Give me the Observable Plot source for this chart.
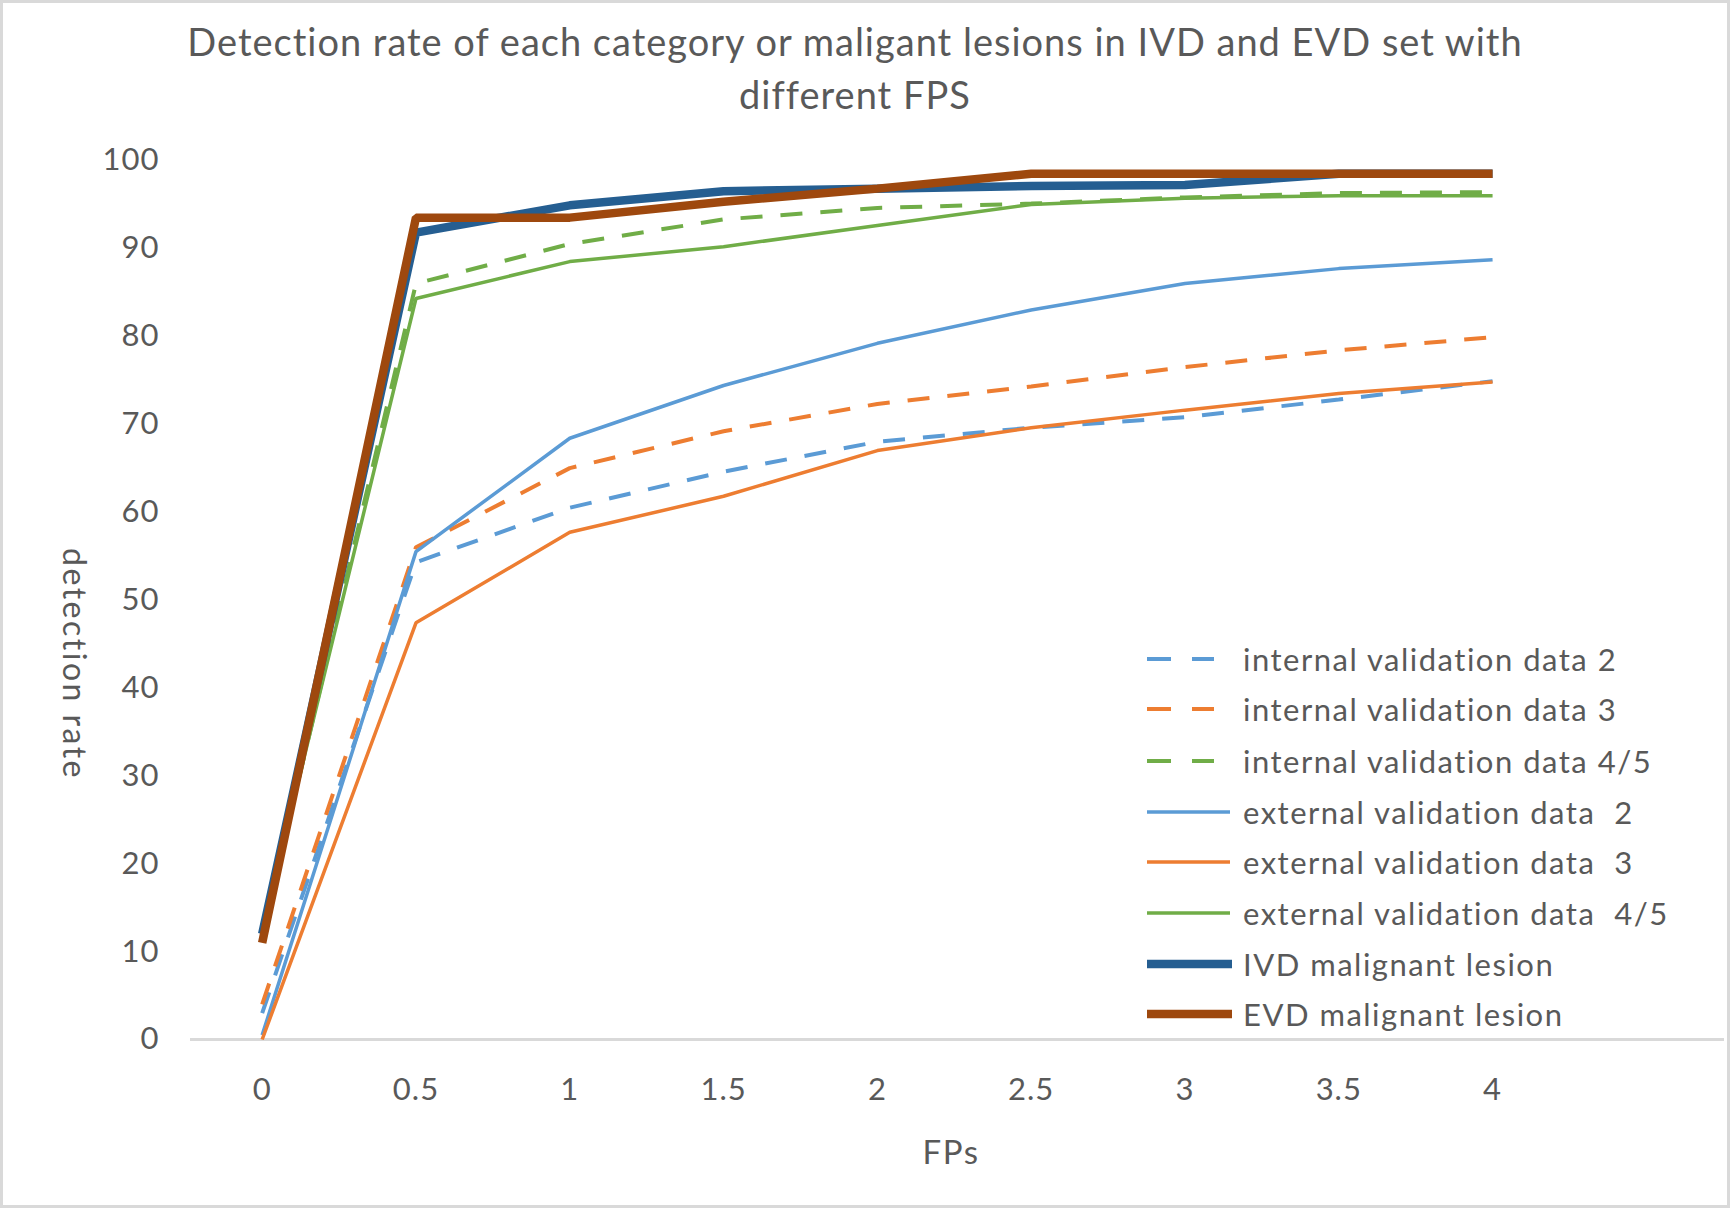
<!DOCTYPE html>
<html>
<head>
<meta charset="utf-8">
<script src="https://cdn.jsdelivr.net/npm/d3@7"></script>
<script src="https://cdn.jsdelivr.net/npm/@observablehq/plot@0.6"></script>
<style>
  html, body { margin: 0; padding: 0; background: #fff; overflow: hidden; }
  #chart { position: relative; width: 1730px; height: 1208px; background: #fff; font-family: Lato, "Open Sans", sans-serif; color: #595959; }
  #frame { position: absolute; left: 0; top: 0; width: 1730px; height: 1208px; box-sizing: border-box; border: 3px solid #d9d9d9; pointer-events: none; }
  #title { position: absolute; left: 0; top: 15px; width: 1710px; text-align: center; font-size: 38px; letter-spacing: 1px; line-height: 53px; color: #595959; }
  #plot { position: absolute; left: 0; top: 125px; }
  #ylabel { position: absolute; left: 75px; top: 664px; transform: translate(-50%, -50%) rotate(90deg); font-size: 32px; letter-spacing: 2.5px; white-space: nowrap; }
  #xlabel { position: absolute; left: 951px; top: 1151px; transform: translate(-50%, -50%); font-size: 33px; letter-spacing: 1.5px; }
  .legrow { position: absolute; left: 1147px; height: 40px; display: flex; align-items: center; font-size: 31px; letter-spacing: 1.5px; white-space: nowrap; }
  .legrow svg { width: 96px; height: 20px; flex: none; }
  #plot svg text { letter-spacing: 1px; }
</style>
</head>
<body>
<div id="chart">
  <div id="title"></div>
  <div id="plot"></div>
  <div id="ylabel"></div>
  <div id="xlabel"></div>
  <div id="legend"></div>
  <div id="frame"></div>
</div>
<script>
// ---- data ----
const titleLines = ["Detection rate of each category or maligant lesions in IVD and EVD set with", "different FPS"];
const xLabel = "FPs";
const yLabel = "detection rate";
const fps = [0, 0.5, 1, 1.5, 2, 2.5, 3, 3.5, 4];
const yTicks = [0, 10, 20, 30, 40, 50, 60, 70, 80, 90, 100];

const seriesNames = [
  "internal validation data 2",
  "internal validation data 3",
  "internal validation data 4/5",
  "external validation data  2",
  "external validation data  3",
  "external validation data  4/5",
  "IVD malignant lesion",
  "EVD malignant lesion"
];
const internal2  = [3,    54.3, 60.5, 64.6, 68.0, 69.6, 70.8, 72.8, 74.9];
const internal3  = [4,    56.0, 65.0, 69.2, 72.3, 74.3, 76.5, 78.4, 79.9];
const internal45 = [12,   86.0, 90.5, 93.3, 94.6, 95.1, 95.8, 96.3, 96.4];
const external2  = [0.5,  55.5, 68.4, 74.4, 79.2, 83.0, 86.0, 87.7, 88.7];
const external3  = [0,    47.4, 57.7, 61.8, 67.0, 69.6, 71.6, 73.5, 74.8];
const external45 = [12.5, 84.3, 88.5, 90.2, 92.6, 95.0, 95.7, 96.0, 96.0];
const ivd        = [12,   91.8, 94.9, 96.5, 96.8, 97.1, 97.2, 98.5, 98.5];
const evd        = [11,   93.5, 93.5, 95.3, 96.8, 98.5, 98.5, 98.5, 98.5];
const seriesValues = [internal2, internal3, internal45, external2, external3, external45, ivd, evd];

// ---- styles ----
const seriesColors = ["#5B9BD5", "#ED7D31", "#70AD47", "#5B9BD5", "#ED7D31", "#70AD47", "#255E91", "#9E480E"];
const seriesWidths = [4, 4, 4, 3.5, 3.5, 3.5, 8.5, 8.5];
const seriesDash   = ["22,18", "22,18", "22,18", null, null, null, null, null];

// ---- title/labels ----
document.getElementById("title").innerHTML = titleLines.join("<br>");
document.getElementById("ylabel").textContent = yLabel;
document.getElementById("xlabel").textContent = xLabel;

// ---- plot ----
const lineMarks = seriesValues.map((vals, i) =>
  Plot.line(fps.map((x, j) => ({x, y: vals[j]})), {
    x: "x", y: "y",
    stroke: seriesColors[i],
    strokeWidth: seriesWidths[i],
    strokeDasharray: seriesDash[i] || undefined,
    strokeLinejoin: "miter",
    strokeLinecap: "butt"
  })
);

const chart = Plot.plot({
  width: 1730,
  height: 1083,
  marginLeft: 190,
  marginRight: 6,
  marginTop: 35,
  marginBottom: 169,
  style: {fontFamily: "Lato, 'Open Sans', sans-serif", fontSize: "31px", color: "#595959", background: "transparent"},
  x: {domain: [-0.233, 4.754], ticks: fps, tickFormat: d => String(d), tickSize: 0, tickPadding: 38, label: null},
  y: {domain: [0, 100], ticks: yTicks, tickSize: 0, tickPadding: 31, label: null},
  marks: [
    Plot.ruleY([0], {stroke: "#d9d9d9", strokeWidth: 3}),
    ...lineMarks
  ]
});
document.getElementById("plot").appendChild(chart);

// ---- legend ----
const legendRowY = [659, 709, 761, 812, 862, 913, 964, 1014];
const legend = document.getElementById("legend");
seriesNames.forEach((name, i) => {
  const row = document.createElement("div");
  row.className = "legrow";
  row.style.top = (legendRowY[i] - 20) + "px";
  const ns = "http://www.w3.org/2000/svg";
  const svg = document.createElementNS(ns, "svg");
  const ln = document.createElementNS(ns, "line");
  ln.setAttribute("x1", 0);
  ln.setAttribute("x2", seriesDash[i] ? 67 : (seriesWidths[i] > 5 ? 85 : 83));
  ln.setAttribute("y1", 10);
  ln.setAttribute("y2", 10);
  ln.setAttribute("stroke", seriesColors[i]);
  ln.setAttribute("stroke-width", seriesWidths[i]);
  if (seriesDash[i]) ln.setAttribute("stroke-dasharray", "24,21");
  svg.appendChild(ln);
  row.appendChild(svg);
  const span = document.createElement("span");
  span.textContent = name;
  span.style.whiteSpace = "pre";
  row.appendChild(span);
  legend.appendChild(row);
});
</script>
</body>
</html>
